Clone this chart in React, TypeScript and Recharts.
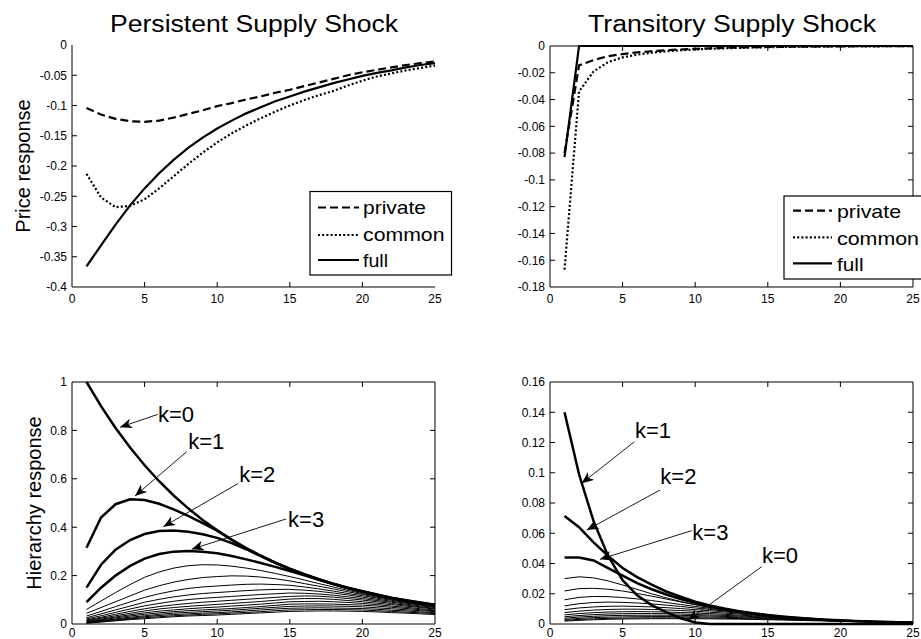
import React from 'react';
import { LineChart, Line, XAxis, YAxis, ReferenceLine, ReferenceDot } from 'recharts';

const FONT = '"Liberation Sans", Arial, Helvetica, sans-serif';

// horizon (periods after the shock)
const STEPS = [1, 2, 3, 4, 5, 6, 7, 8, 9, 10, 11, 12, 13, 14, 15, 16, 17, 18, 19, 20, 21, 22, 23, 24, 25];
const X_TICKS = [0, 5, 10, 15, 20, 25];

// --- price response, persistent supply shock
const PERS_PRIVATE = [-0.104, -0.115, -0.122, -0.126, -0.127, -0.125, -0.12, -0.114, -0.108, -0.101, -0.096, -0.09, -0.085, -0.079, -0.074, -0.068, -0.062, -0.056, -0.05, -0.045, -0.041, -0.037, -0.033, -0.03, -0.027];
const PERS_COMMON = [-0.213, -0.252, -0.268, -0.266, -0.255, -0.237, -0.217, -0.197, -0.178, -0.161, -0.146, -0.133, -0.121, -0.11, -0.1, -0.091, -0.083, -0.076, -0.067, -0.059, -0.052, -0.047, -0.042, -0.038, -0.034];
const PERS_FULL = [-0.366, -0.331, -0.297, -0.265, -0.237, -0.212, -0.19, -0.17, -0.153, -0.138, -0.125, -0.113, -0.103, -0.093, -0.085, -0.077, -0.07, -0.063, -0.057, -0.051, -0.046, -0.042, -0.037, -0.033, -0.03];
const PERS_Y_TICKS = [0, -0.05, -0.1, -0.15, -0.2, -0.25, -0.3, -0.35, -0.4];

// --- price response, transitory supply shock
const TRANS_PRIVATE = [-0.08, -0.0145, -0.0105, -0.0076, -0.006, -0.0048, -0.0039, -0.0032, -0.0026, -0.0021, -0.0017, -0.0014, -0.0011, -0.0009, -0.0007, -0.0006, -0.0005, -0.0004, -0.0003, -0.0003, -0.0002, -0.0002, -0.0002, -0.0002, -0.0002];
const TRANS_COMMON = [-0.167, -0.034, -0.019, -0.012, -0.0085, -0.0065, -0.005, -0.004, -0.0032, -0.0026, -0.0021, -0.0017, -0.0014, -0.0011, -0.0009, -0.0007, -0.0006, -0.0005, -0.0004, -0.0003, -0.0003, -0.0003, -0.0002, -0.0002, -0.0002];
const TRANS_FULL = [-0.083, 0, 0, 0, 0, 0, 0, 0, 0, 0, 0, 0, 0, 0, 0, 0, 0, 0, 0, 0, 0, 0, 0, 0, 0];
const TRANS_Y_TICKS = [0, -0.02, -0.04, -0.06, -0.08, -0.1, -0.12, -0.14, -0.16, -0.18];

// --- hierarchy response, persistent shock (k = 0..16)
const HP_K0 = [1.0, 0.9, 0.81, 0.729, 0.656, 0.59, 0.531, 0.478, 0.43, 0.387, 0.349, 0.314, 0.282, 0.254, 0.229, 0.206, 0.185, 0.167, 0.15, 0.135, 0.122, 0.109, 0.098, 0.089, 0.08];
const HP_K1 = [0.315, 0.44, 0.495, 0.515, 0.512, 0.497, 0.474, 0.447, 0.417, 0.386, 0.347, 0.312, 0.281, 0.253, 0.228, 0.205, 0.184, 0.166, 0.149, 0.134, 0.121, 0.108, 0.097, 0.088, 0.079];
const HP_K2 = [0.15, 0.245, 0.307, 0.347, 0.372, 0.384, 0.386, 0.381, 0.371, 0.356, 0.334, 0.309, 0.281, 0.253, 0.227, 0.204, 0.184, 0.165, 0.148, 0.133, 0.119, 0.107, 0.096, 0.086, 0.078];
const HP_K3 = [0.09, 0.15, 0.2, 0.24, 0.27, 0.289, 0.299, 0.302, 0.299, 0.292, 0.281, 0.267, 0.252, 0.236, 0.219, 0.201, 0.183, 0.165, 0.149, 0.134, 0.12, 0.107, 0.096, 0.086, 0.078];
const HP_K4 = [0.06, 0.095, 0.13, 0.163, 0.193, 0.215, 0.231, 0.241, 0.245, 0.244, 0.239, 0.231, 0.221, 0.209, 0.196, 0.182, 0.167, 0.153, 0.139, 0.126, 0.115, 0.105, 0.096, 0.088, 0.08];
const HP_K5 = [0.044, 0.068, 0.092, 0.116, 0.14, 0.158, 0.173, 0.184, 0.192, 0.196, 0.199, 0.198, 0.194, 0.187, 0.178, 0.167, 0.156, 0.145, 0.133, 0.122, 0.111, 0.101, 0.092, 0.084, 0.077];
const HP_K6 = [0.033, 0.052, 0.072, 0.091, 0.11, 0.125, 0.137, 0.147, 0.153, 0.157, 0.161, 0.164, 0.165, 0.163, 0.16, 0.153, 0.145, 0.136, 0.126, 0.117, 0.107, 0.098, 0.089, 0.081, 0.074];
const HP_K7 = [0.026, 0.042, 0.058, 0.074, 0.09, 0.102, 0.112, 0.12, 0.126, 0.13, 0.134, 0.138, 0.141, 0.143, 0.143, 0.14, 0.135, 0.128, 0.12, 0.111, 0.102, 0.094, 0.086, 0.078, 0.071];
const HP_K8 = [0.021, 0.034, 0.048, 0.062, 0.075, 0.085, 0.094, 0.101, 0.106, 0.11, 0.114, 0.118, 0.122, 0.125, 0.128, 0.127, 0.124, 0.119, 0.112, 0.105, 0.097, 0.09, 0.082, 0.075, 0.068];
const HP_K9 = [0.017, 0.028, 0.04, 0.052, 0.063, 0.072, 0.079, 0.085, 0.09, 0.094, 0.098, 0.102, 0.106, 0.11, 0.114, 0.116, 0.115, 0.111, 0.105, 0.099, 0.092, 0.085, 0.078, 0.071, 0.065];
const HP_K10 = [0.014, 0.024, 0.034, 0.044, 0.054, 0.062, 0.068, 0.073, 0.077, 0.081, 0.085, 0.089, 0.093, 0.098, 0.103, 0.105, 0.105, 0.102, 0.097, 0.092, 0.086, 0.08, 0.074, 0.068, 0.062];
const HP_K11 = [0.011, 0.02, 0.029, 0.038, 0.046, 0.053, 0.058, 0.063, 0.067, 0.07, 0.074, 0.078, 0.082, 0.087, 0.092, 0.093, 0.094, 0.092, 0.089, 0.085, 0.08, 0.074, 0.069, 0.063, 0.058];
const HP_K12 = [0.009, 0.017, 0.025, 0.033, 0.04, 0.046, 0.051, 0.055, 0.058, 0.061, 0.064, 0.068, 0.072, 0.077, 0.082, 0.083, 0.083, 0.082, 0.08, 0.078, 0.074, 0.069, 0.064, 0.059, 0.055];
const HP_K13 = [0.007, 0.014, 0.021, 0.028, 0.034, 0.04, 0.045, 0.048, 0.051, 0.054, 0.057, 0.061, 0.065, 0.069, 0.073, 0.074, 0.075, 0.074, 0.073, 0.071, 0.067, 0.063, 0.059, 0.055, 0.051];
const HP_K14 = [0.005, 0.012, 0.018, 0.024, 0.03, 0.035, 0.039, 0.042, 0.045, 0.047, 0.05, 0.054, 0.058, 0.062, 0.065, 0.066, 0.067, 0.066, 0.065, 0.064, 0.061, 0.057, 0.054, 0.05, 0.047];
const HP_K15 = [0.004, 0.01, 0.015, 0.021, 0.026, 0.03, 0.034, 0.037, 0.04, 0.042, 0.045, 0.048, 0.051, 0.055, 0.058, 0.059, 0.06, 0.06, 0.059, 0.058, 0.055, 0.052, 0.049, 0.046, 0.043];
const HP_K16 = [0.003, 0.008, 0.013, 0.018, 0.022, 0.026, 0.03, 0.033, 0.035, 0.037, 0.04, 0.043, 0.046, 0.049, 0.052, 0.053, 0.054, 0.054, 0.053, 0.052, 0.05, 0.047, 0.045, 0.042, 0.039];
const HP_Y_TICKS = [0, 0.2, 0.4, 0.6, 0.8, 1];

// --- hierarchy response, transitory shock (k = 1..15)
const HT_K1 = [0.14, 0.099, 0.068, 0.045, 0.029, 0.019, 0.0125, 0.0078, 0.0038, 0.001, 0, 0, 0, 0, 0, 0, 0, 0, 0, 0, 0, 0, 0, 0, 0];
const HT_K2 = [0.0714, 0.064, 0.054, 0.045, 0.037, 0.031, 0.026, 0.0215, 0.018, 0.0148, 0.0123, 0.0102, 0.0085, 0.0071, 0.0059, 0.0049, 0.0041, 0.0034, 0.0028, 0.0024, 0.002, 0.0017, 0.0014, 0.0012, 0.001];
const HT_K3 = [0.044, 0.044, 0.042, 0.037, 0.032, 0.027, 0.023, 0.0195, 0.0165, 0.014, 0.0117, 0.0098, 0.0082, 0.0068, 0.0057, 0.0047, 0.0039, 0.0033, 0.0027, 0.0023, 0.0019, 0.0016, 0.0013, 0.0011, 0.0009];
const HT_K4 = [0.03, 0.0312, 0.0305, 0.0285, 0.0258, 0.0229, 0.02, 0.0173, 0.0149, 0.0128, 0.0109, 0.0093, 0.0079, 0.0067, 0.0056, 0.0047, 0.0039, 0.0033, 0.0027, 0.0023, 0.0019, 0.0016, 0.0013, 0.0011, 0.0009];
const HT_K5 = [0.0218, 0.0234, 0.0236, 0.023, 0.0218, 0.0202, 0.0184, 0.0165, 0.0146, 0.0128, 0.0111, 0.0095, 0.0081, 0.0069, 0.0058, 0.0048, 0.004, 0.0034, 0.0028, 0.0023, 0.0019, 0.0016, 0.0013, 0.0011, 0.0009];
const HT_K6 = [0.016, 0.0176, 0.0182, 0.0181, 0.0175, 0.0166, 0.0155, 0.0142, 0.0129, 0.0116, 0.0103, 0.009, 0.0078, 0.0067, 0.0057, 0.0048, 0.004, 0.0034, 0.0028, 0.0023, 0.0019, 0.0016, 0.0013, 0.0011, 0.0009];
const HT_K7 = [0.012, 0.0134, 0.0142, 0.0145, 0.0143, 0.0139, 0.0133, 0.0125, 0.0116, 0.0106, 0.0096, 0.0086, 0.0076, 0.0066, 0.0057, 0.0048, 0.0041, 0.0034, 0.0029, 0.0024, 0.002, 0.0017, 0.0014, 0.0011, 0.0009];
const HT_K8 = [0.0095, 0.0106, 0.0113, 0.0117, 0.0118, 0.0116, 0.0113, 0.0108, 0.0102, 0.0095, 0.0088, 0.008, 0.0072, 0.0064, 0.0056, 0.0048, 0.0041, 0.0035, 0.0029, 0.0024, 0.002, 0.0017, 0.0014, 0.0012, 0.001];
const HT_K9 = [0.0075, 0.0085, 0.0092, 0.0096, 0.0098, 0.0098, 0.0096, 0.0093, 0.0089, 0.0084, 0.0078, 0.0072, 0.0066, 0.0059, 0.0052, 0.0046, 0.004, 0.0034, 0.0029, 0.0024, 0.002, 0.0017, 0.0014, 0.0012, 0.001];
const HT_K10 = [0.006, 0.0069, 0.0075, 0.0079, 0.0081, 0.0082, 0.0081, 0.0079, 0.0076, 0.0073, 0.0069, 0.0064, 0.0059, 0.0054, 0.0048, 0.0043, 0.0038, 0.0033, 0.0028, 0.0024, 0.002, 0.0017, 0.0014, 0.0012, 0.001];
const HT_K11 = [0.0048, 0.0056, 0.0062, 0.0066, 0.0068, 0.0069, 0.0069, 0.0068, 0.0066, 0.0063, 0.006, 0.0057, 0.0053, 0.0049, 0.0044, 0.004, 0.0035, 0.0031, 0.0027, 0.0023, 0.002, 0.0017, 0.0014, 0.0012, 0.001];
const HT_K12 = [0.0038, 0.0046, 0.0051, 0.0055, 0.0057, 0.0058, 0.0058, 0.0058, 0.0057, 0.0055, 0.0053, 0.005, 0.0047, 0.0044, 0.004, 0.0036, 0.0033, 0.0029, 0.0025, 0.0022, 0.0019, 0.0016, 0.0014, 0.0012, 0.001];
const HT_K13 = [0.003, 0.0037, 0.0042, 0.0045, 0.0047, 0.0048, 0.0049, 0.0049, 0.0048, 0.0047, 0.0046, 0.0044, 0.0042, 0.0039, 0.0036, 0.0033, 0.003, 0.0027, 0.0024, 0.0021, 0.0018, 0.0016, 0.0013, 0.0011, 0.001];
const HT_K14 = [0.0024, 0.003, 0.0034, 0.0037, 0.0039, 0.004, 0.0041, 0.0041, 0.0041, 0.004, 0.0039, 0.0038, 0.0036, 0.0034, 0.0032, 0.003, 0.0027, 0.0025, 0.0022, 0.0019, 0.0017, 0.0015, 0.0013, 0.0011, 0.0009];
const HT_K15 = [0.0019, 0.0024, 0.0028, 0.0031, 0.0033, 0.0034, 0.0035, 0.0035, 0.0035, 0.0035, 0.0034, 0.0033, 0.0032, 0.003, 0.0028, 0.0026, 0.0024, 0.0022, 0.002, 0.0018, 0.0016, 0.0014, 0.0012, 0.001, 0.0009];
const HT_Y_TICKS = [0, 0.02, 0.04, 0.06, 0.08, 0.1, 0.12, 0.14, 0.16];

// arrow annotations: label anchor, arrow tail, arrow head (data coords)
const HP_NOTES = [
  { text: 'k=0', at: [5.92, 0.868], from: [5.9, 0.866], to: [3.31, 0.813] },
  { text: 'k=1', at: [8.0, 0.757], from: [7.9, 0.712], to: [4.34, 0.529] },
  { text: 'k=2', at: [11.52, 0.62], from: [11.45, 0.581], to: [6.29, 0.402] },
  { text: 'k=3', at: [14.88, 0.434], from: [14.74, 0.434], to: [8.24, 0.309] },
];
const HT_NOTES = [
  { text: 'k=1', at: [5.85, 0.128], from: [5.81, 0.1205], to: [2.18, 0.093] },
  { text: 'k=2', at: [7.6, 0.0974], from: [7.58, 0.0886], to: [2.53, 0.0621] },
  { text: 'k=3', at: [9.8, 0.061], from: [9.76, 0.0617], to: [3.44, 0.0428] },
  { text: 'k=0', at: [14.6, 0.0456], from: [14.58, 0.0379], to: [9.52, 0.0026] },
];

const HP_LINES = [HP_K0, HP_K1, HP_K2, HP_K3, HP_K4, HP_K5, HP_K6, HP_K7, HP_K8, HP_K9, HP_K10, HP_K11, HP_K12, HP_K13, HP_K14, HP_K15, HP_K16];
const HT_LINES = [HT_K1, HT_K2, HT_K3, HT_K4, HT_K5, HT_K6, HT_K7, HT_K8, HT_K9, HT_K10, HT_K11, HT_K12, HT_K13, HT_K14, HT_K15];

const priceRows = (p: number[], c: number[], f: number[]) =>
  STEPS.map((x, i) => ({ x, private: p[i], common: c[i], full: f[i] }));

const hierRows = (lines: number[][]) =>
  STEPS.map((x, i) => {
    const row: Record<string, number> = { x };
    lines.forEach((l, j) => {
      row['s' + j] = l[i];
    });
    return row;
  });

const DASH = '8 4';
const DOT = '2 2.2';

// plot-area geometry of each panel, in its own svg
type Geo = { left: number; right: number; top: number; bottom: number; box: boolean; gap: number };
const G_TL: Geo = { left: 72, right: 435, top: 45, bottom: 287, box: false, gap: 7 };
const G_TR: Geo = { left: 90, right: 453, top: 46, bottom: 287, box: true, gap: 7 };
const G_BL: Geo = { left: 72, right: 435, top: 62, bottom: 304, box: true, gap: 4 };
const G_BR: Geo = { left: 90, right: 453, top: 62, bottom: 304, box: true, gap: 4 };

// MATLAB style ticks: marks point inward, mirrored on the box side
const makeXTick = (g: Geo) => (p: any) => {
  const x = p.x;
  const v = p.payload.value;
  const inner = v > 0 && v < 25;
  return (
    <g>
      {inner && <line x1={x} x2={x} y1={g.bottom} y2={g.bottom - 5} stroke="#000" />}
      {inner && g.box && <line x1={x} x2={x} y1={g.top} y2={g.top + 5} stroke="#000" />}
      <text x={x} y={g.bottom + g.gap} dy="0.75em" textAnchor="middle" fontSize={12} fill="#000">{v}</text>
    </g>
  );
};

const makeYTick = (g: Geo, lo: number, hi: number) => (p: any) => {
  const y = p.y;
  const v = p.payload.value;
  const inner = v > lo && v < hi;
  return (
    <g>
      {inner && <line x1={g.left} x2={g.left + 5} y1={y} y2={y} stroke="#000" />}
      {inner && g.box && <line x1={g.right} x2={g.right - 5} y1={y} y2={y} stroke="#000" />}
      <text x={g.left - 5} y={y} dy="0.36em" textAnchor="end" fontSize={12} fill="#000">{String(v)}</text>
    </g>
  );
};

function axes(g: Geo, yDomain: number[], yTicks: number[], yWidth: number, xHeight: number) {
  const list = [
    <XAxis key="xb" dataKey="x" type="number" domain={[0, 25]} ticks={X_TICKS} interval={0} height={xHeight}
      stroke="#000" tickLine={false} tickSize={0} tick={makeXTick(g)} />,
    <YAxis key="yl" type="number" domain={yDomain} ticks={yTicks} interval={0} width={yWidth}
      stroke="#000" tickLine={false} tickSize={0} tick={makeYTick(g, yDomain[0], yDomain[1])} />,
  ];
  if (g.box) {
    list.push(
      <ReferenceLine key="bt" y={yDomain[1]} stroke="#000" strokeWidth={1} />,
      <ReferenceLine key="br" x={25} stroke="#000" strokeWidth={1} />
    );
  }
  return list;
}

function notes(list: typeof HP_NOTES) {
  const out: React.ReactNode[] = [];
  list.forEach((n, i) => {
    out.push(
      <ReferenceLine key={'a' + i} segment={[{ x: n.from[0], y: n.from[1] }, { x: n.to[0], y: n.to[1] }]}
        stroke="#000" strokeWidth={0.9} markerEnd="url(#arrowHead)" ifOverflow="visible" />
    );
    out.push(
      <ReferenceDot key={'t' + i} x={n.at[0]} y={n.at[1]} r={0} fill="none" stroke="none" ifOverflow="visible"
        label={{ value: n.text, position: 'right', offset: 0, fontSize: 22, fill: '#000' }} />
    );
  });
  return out;
}

function priceLines(w: number) {
  return [
    <Line key="p" dataKey="private" type="linear" stroke="#000" strokeWidth={w} strokeDasharray={DASH} dot={false} isAnimationActive={false} />,
    <Line key="c" dataKey="common" type="linear" stroke="#000" strokeWidth={w} strokeDasharray={DOT} dot={false} isAnimationActive={false} />,
    <Line key="f" dataKey="full" type="linear" stroke="#000" strokeWidth={w} dot={false} isAnimationActive={false} />,
  ];
}

function hierLines(count: number, thick: number) {
  const out: React.ReactNode[] = [];
  for (let j = count - 1; j >= 0; j--) {
    out.push(
      <Line key={j} dataKey={'s' + j} type="linear" stroke="#000" strokeWidth={j < thick ? 2.5 : 1}
        dot={false} isAnimationActive={false} />
    );
  }
  return out;
}

type LegendRow = { label: string; dash?: string; y: number; base: number; len: number };

function LegendBox({ x, y, w, h, lx, tx, rows }: { x: number; y: number; w: number; h: number; lx: number[]; tx: number; rows: LegendRow[] }) {
  return (
    <g>
      <rect x={x} y={y} width={w} height={h} fill="#fff" stroke="#000" strokeWidth={1.2} />
      {rows.map((r) => (
        <g key={r.label}>
          <line x1={lx[0]} x2={lx[1]} y1={r.y} y2={r.y} stroke="#000" strokeWidth={2.2} strokeDasharray={r.dash} />
          <text x={tx} y={r.base} fontSize={19} textLength={r.len} lengthAdjust="spacingAndGlyphs" fill="#000">{r.label}</text>
        </g>
      ))}
    </g>
  );
}

export default function App() {
  const persData = priceRows(PERS_PRIVATE, PERS_COMMON, PERS_FULL);
  const transData = priceRows(TRANS_PRIVATE, TRANS_COMMON, TRANS_FULL);
  const hpData = hierRows(HP_LINES);
  const htData = hierRows(HT_LINES);

  return (
    <div style={{ position: 'absolute', left: 0, top: 0, width: 921, height: 639, overflow: 'hidden', background: '#fff', fontFamily: FONT }}>
      <div style={{ position: 'absolute', left: 0, top: 0 }}>
        <LineChart width={460} height={320} data={persData} margin={{ top: 45, right: 25, bottom: 0, left: 0 }}>
          {axes(G_TL, [-0.4, 0], PERS_Y_TICKS, 72, 33)}
          {priceLines(2.2)}
        </LineChart>
      </div>
      <div style={{ position: 'absolute', left: 460, top: 0 }}>
        <LineChart width={461} height={320} data={transData} margin={{ top: 46, right: 8, bottom: 0, left: 0 }}>
          {axes(G_TR, [-0.18, 0], TRANS_Y_TICKS, 90, 33)}
          {priceLines(2.2)}
        </LineChart>
      </div>
      <div style={{ position: 'absolute', left: 0, top: 320 }}>
        <LineChart width={460} height={319} data={hpData} margin={{ top: 62, right: 25, bottom: 0, left: 0 }}>
          {axes(G_BL, [0, 1], HP_Y_TICKS, 72, 15)}
          {hierLines(HP_LINES.length, 4)}
          {notes(HP_NOTES)}
        </LineChart>
      </div>
      <div style={{ position: 'absolute', left: 460, top: 320 }}>
        <LineChart width={461} height={319} data={htData} margin={{ top: 62, right: 8, bottom: 0, left: 0 }}>
          {axes(G_BR, [0, 0.16], HT_Y_TICKS, 90, 15)}
          {hierLines(HT_LINES.length, 3)}
          {notes(HT_NOTES)}
        </LineChart>
      </div>

      <svg width={921} height={639} style={{ position: 'absolute', left: 0, top: 0, pointerEvents: 'none' }}>
        <defs>
          <marker id="arrowHead" markerUnits="userSpaceOnUse" markerWidth={13} markerHeight={10} refX={12} refY={5} orient="auto">
            <path d="M0,0 L12,5 L0,10 L3.5,5 z" fill="#000" />
          </marker>
        </defs>
        <text x={254} y={32} textAnchor="middle" fontSize={23} textLength={288} lengthAdjust="spacingAndGlyphs" fill="#000">Persistent Supply Shock</text>
        <text x={732} y={32} textAnchor="middle" fontSize={23} textLength={288} lengthAdjust="spacingAndGlyphs" fill="#000">Transitory Supply Shock</text>
        <text transform="translate(23,166) rotate(-90)" textAnchor="middle" dominantBaseline="central" fontSize={20} fill="#000">Price response</text>
        <text transform="translate(34,503) rotate(-90)" textAnchor="middle" dominantBaseline="central" fontSize={20} fill="#000">Hierarchy response</text>
        <LegendBox x={310} y={191.5} w={141.5} h={83.5} lx={[318, 359]} tx={363}
          rows={[
            { label: 'private', dash: DASH, y: 207.5, base: 213.5, len: 63 },
            { label: 'common', dash: DOT, y: 235, base: 240.5, len: 81.5 },
            { label: 'full', y: 260, base: 266.5, len: 25 },
          ]} />
        <LegendBox x={784} y={196} w={150} h={83} lx={[793, 832]} tx={837}
          rows={[
            { label: 'private', dash: DASH, y: 210.7, base: 218, len: 64 },
            { label: 'common', dash: DOT, y: 237.3, base: 245, len: 82 },
            { label: 'full', y: 263.3, base: 270.5, len: 26.5 },
          ]} />
      </svg>
    </div>
  );
}
